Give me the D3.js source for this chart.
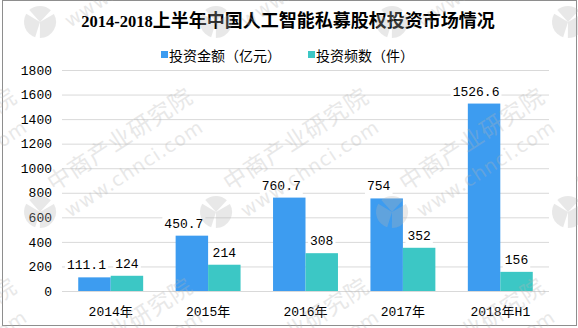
<!DOCTYPE html>
<html>
<head>
<meta charset="utf-8">
<script src="https://cdn.jsdelivr.net/npm/d3@7"></script>
<style>
  html, body { margin: 0; padding: 0; background: #fff; }
  svg { display: block; }
</style>
</head>
<body>
<svg id="chart" width="578" height="328"></svg>
<script>
// Chart data
const categories = ["2014年", "2015年", "2016年", "2017年", "2018年H1"];
const seriesNames = ["投资金额（亿元）", "投资频数（件）"];
const amount = [111.1, 450.7, 760.7, 754, 1526.6];
const frequency = [124, 214, 308, 352, 156];
const yTicks = [0, 200, 400, 600, 800, 1000, 1200, 1400, 1600, 1800];
const titleYears = "2014-2018";
const titleRest = "上半年中国人工智能私募股权投资市场情况";

const colors = ["#3d9cf0", "#3cc7c5"];
const numFont = "'Liberation Mono', 'Noto Sans CJK SC', monospace";
const cjkFont = "'Noto Sans CJK SC', sans-serif";

const svg = d3.select("#chart");
const plot = { left: 62, right: 549, top: 70, bottom: 291 };

// outer frame
svg.append("rect")
  .attr("x", 2.5).attr("y", 0.5)
  .attr("width", 574).attr("height", 325)
  .attr("fill", "#fff").attr("stroke", "#8e8e8e").attr("stroke-width", 1);

// title
const title = svg.append("text")
  .attr("x", 288).attr("y", 27)
  .attr("text-anchor", "middle")
  .attr("font-weight", "bold")
  .attr("fill", "#000");
title.append("tspan")
  .attr("font-family", "'Liberation Serif', serif")
  .attr("font-size", 16.5)
  .text(titleYears);
title.append("tspan")
  .attr("font-family", cjkFont)
  .attr("font-size", 18)
  .text(titleRest);

// legend
const legendX = [161, 308];
seriesNames.forEach((name, i) => {
  const g = svg.append("g").attr("transform", `translate(${legendX[i]},51)`);
  g.append("rect").attr("width", 7).attr("height", 7).attr("fill", colors[i]);
  g.append("text")
    .attr("x", 8).attr("y", 10)
    .attr("font-family", cjkFont)
    .attr("font-size", 14)
    .attr("fill", "#000")
    .text(name);
});

// scales
const y = d3.scaleLinear().domain([0, 1800]).range([plot.bottom, plot.top]);
const x0 = d3.scaleBand().domain(categories)
  .range([plot.left, plot.right])
  .paddingInner(1 / 3).paddingOuter(1 / 6);
const x1 = d3.scaleBand().domain([0, 1]).range([0, x0.bandwidth()]);

// y axis with gridlines
const yAxis = svg.append("g")
  .attr("transform", `translate(${plot.left},0)`)
  .call(d3.axisLeft(y).tickValues(yTicks).tickFormat(d3.format("d"))
    .tickSize(-(plot.right - plot.left)).tickPadding(10));
yAxis.select(".domain").remove();
yAxis.selectAll(".tick line").attr("stroke", "#d9d9d9").attr("stroke-width", 1);
yAxis.selectAll(".tick text")
  .attr("font-family", numFont).attr("font-size", 13).attr("fill", "#000");

// x axis labels
const xAxis = svg.append("g")
  .attr("transform", `translate(0,${plot.bottom})`)
  .call(d3.axisBottom(x0).tickSize(0).tickPadding(16));
xAxis.select(".domain").remove();
xAxis.selectAll(".tick text")
  .attr("font-family", numFont).attr("font-size", 13).attr("fill", "#000");

// bars
const series = [amount, frequency];
const rows = categories.map((c, i) => ({ cat: c, vals: series.map(s => s[i]) }));

const groups = svg.append("g").selectAll("g")
  .data(rows).join("g")
  .attr("transform", d => `translate(${x0(d.cat)},0)`);

groups.selectAll("rect")
  .data(d => d.vals.map((v, k) => ({ v, k })))
  .join("rect")
  .attr("x", d => x1(d.k))
  .attr("y", d => y(d.v))
  .attr("width", x1.bandwidth())
  .attr("height", d => y(0) - y(d.v))
  .attr("fill", d => colors[d.k]);

// value labels with white boxes; amount labels sit a little left of centre
const labels = groups.selectAll("g.lbl")
  .data(d => d.vals.map((v, k) => ({ v, k })))
  .join("g").attr("class", "lbl");
labels.append("text")
  .attr("x", d => x1(d.k) + x1.bandwidth() / 2 - (d.k === 0 ? 8 : 0))
  .attr("y", d => y(d.v) - 8)
  .attr("text-anchor", "middle")
  .attr("font-family", numFont).attr("font-size", 13).attr("fill", "#000")
  .text(d => String(d.v));
labels.each(function () {
  const g = d3.select(this);
  const bb = g.select("text").node().getBBox();
  g.insert("rect", "text")
    .attr("x", bb.x - 2).attr("y", bb.y)
    .attr("width", bb.width + 4).attr("height", bb.height + 2)
    .attr("fill", "#fff");
});

// faint site watermark, tiled across the frame
const wm = svg.append("g").attr("pointer-events", "none");
const wmFill = "#b4b4b4", wmOpacity = 0.3;
const logoArc = d3.arc().innerRadius(0).outerRadius(16).padAngle(0.3);
const logoParts = [[0.9, 3.3], [3.3, 5.4], [5.4, 7.18]];
[-136, 40, 216, 392, 568].forEach(tx => {
  [22, 212, 402].forEach(ty => {
    const t = wm.append("g").attr("transform", `translate(${tx},${ty})`);
    logoParts.forEach(([a0, a1]) => {
      t.append("path")
        .attr("d", logoArc({ startAngle: a0, endAngle: a1 }))
        .attr("fill", wmFill).attr("opacity", wmOpacity);
    });
    t.append("text")
      .attr("transform", "translate(14,-20) rotate(-33)")
      .attr("font-family", cjkFont)
      .attr("font-size", 23)
      .attr("letter-spacing", 1)
      .attr("fill", wmFill).attr("opacity", wmOpacity)
      .text("中商产业研究院");
    t.append("text")
      .attr("transform", "translate(30,6) rotate(-33)")
      .attr("font-family", "'DejaVu Sans', sans-serif")
      .attr("font-size", 19)
      .attr("letter-spacing", 1)
      .attr("fill", wmFill).attr("opacity", wmOpacity)
      .text("www.chnci.com");
  });
});
</script>
</body>
</html>
